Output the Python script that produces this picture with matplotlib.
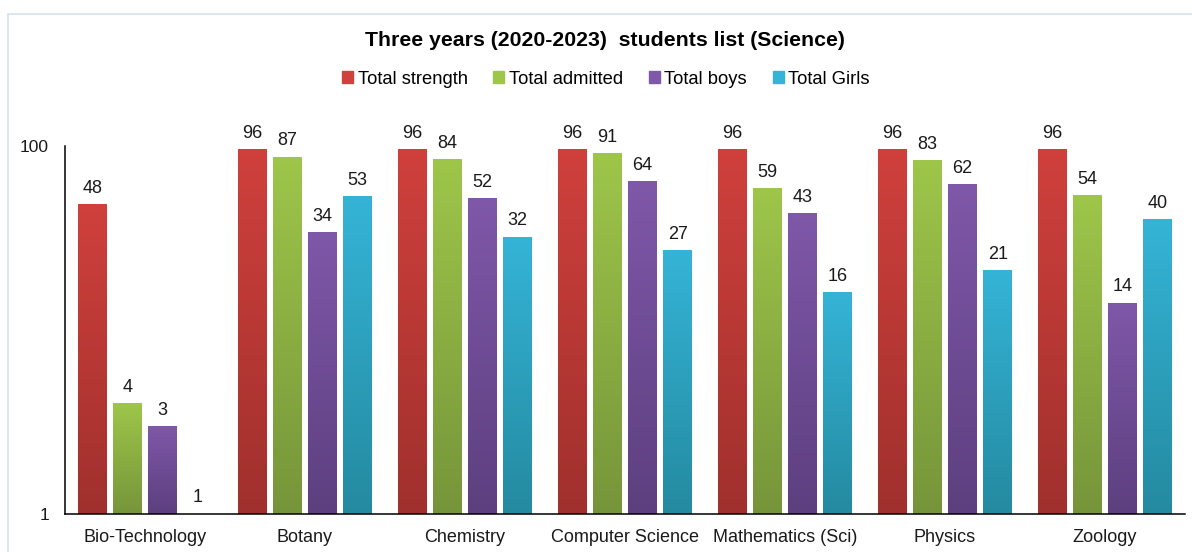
import numpy as np
import matplotlib
matplotlib.use('Agg')
import matplotlib.pyplot as plt
from matplotlib.colors import LinearSegmentedColormap
from matplotlib.patches import Rectangle

plt.rcParams['font.family'] = ['Liberation Sans', 'DejaVu Sans']

subjects = ['Bio-Technology', 'Botany', 'Chemistry', 'Computer Science',
            'Mathematics (Sci)', 'Physics', 'Zoology']
series = ['Total strength', 'Total admitted', 'Total boys', 'Total Girls']
total_strength = [48, 96, 96, 96, 96, 96, 96]
total_admitted = [4, 87, 84, 91, 59, 83, 54]
total_boys = [3, 34, 52, 64, 43, 62, 14]
total_girls = [1, 53, 32, 27, 16, 21, 40]

# (top, bottom) gradient colours per series
grad = [('#d0403c', '#a0302d'),
        ('#9ec64a', '#76953a'),
        ('#7f58a9', '#5d3f7f'),
        ('#35b4d7', '#248aa0')]

fig = plt.figure(figsize=(11.92, 5.52), dpi=100)
W, H = 1192, 552
ax = fig.add_axes([65 / W, (H - 514) / H, (1185 - 65) / W, (514 - 146) / H])

# outer chart border
fig.patches.append(Rectangle((8 / W, -0.1), 1.2, (H - 14) / H + 0.1,
                             transform=fig.transFigure, fill=False,
                             edgecolor='#d5e0ef', linewidth=1.2))

ax.set_yscale('log')
ax.set_ylim(1, 100)
ax.set_xlim(-0.5, len(subjects) - 0.5)

step = 0.22
width = 0.181
x = np.arange(len(subjects))
data = [total_strength, total_admitted, total_boys, total_girls]
xmin, xmax = ax.get_xlim()
g = np.linspace(0, 1, 256).reshape(-1, 1)

for i, vals in enumerate(data):
    xs = x + (i - 1.5) * step
    cmap = LinearSegmentedColormap.from_list('g%d' % i, [grad[i][1], grad[i][0]])
    bars = ax.bar(xs, np.array(vals) - 1, bottom=1, width=width,
                  color=grad[i][0], label=series[i])
    for b, xv, v in zip(bars, xs, vals):
        b.set_alpha(0)
        xa0 = (xv - width / 2 - xmin) / (xmax - xmin)
        xa1 = (xv + width / 2 - xmin) / (xmax - xmin)
        ya = np.log10(v) / 2.0
        if ya > 0:
            ax.imshow(g, cmap=cmap, aspect='auto', origin='lower',
                      extent=[xa0, xa1, 0, ya], transform=ax.transAxes,
                      zorder=2, interpolation='bilinear')
        ax.annotate(str(v), (xv, v), xytext=(0, 5.5), textcoords='offset points',
                    ha='center', va='bottom', fontsize=13, color='#1a1a1a',
                    annotation_clip=False)

ax.set_xlim(xmin, xmax)
ax.set_ylim(1, 100)
ax.set_xticks(x)
ax.set_xticklabels(subjects, fontsize=13, color='#1a1a1a')
ax.set_yticks([1, 100])
ax.set_yticklabels(['1', '100'], fontsize=12.5, color='#1a1a1a')
ax.yaxis.set_minor_locator(matplotlib.ticker.NullLocator())
ax.tick_params(axis='both', length=0)
ax.tick_params(axis='y', pad=11.5)
ax.tick_params(axis='x', pad=11)
for s in ['top', 'right']:
    ax.spines[s].set_visible(False)
for s in ['left', 'bottom']:
    ax.spines[s].set_color('black')
    ax.spines[s].set_linewidth(1.1)

fig.text(605 / W, 1 - 41 / H, 'Three years (2020-2023)  students list (Science)',
         ha='center', va='center', fontsize=15.3, fontweight='bold')

handles = [Rectangle((0, 0), 1, 1, color=c[0]) for c in grad]
fig.legend(handles, series, loc='center', bbox_to_anchor=(606 / W, 1 - 79 / H),
           ncol=4, frameon=False, fontsize=13.2, handlelength=0.6,
           handleheight=0.6, handletextpad=0.25, columnspacing=1.4)

fig.savefig('out.png', dpi=100)
